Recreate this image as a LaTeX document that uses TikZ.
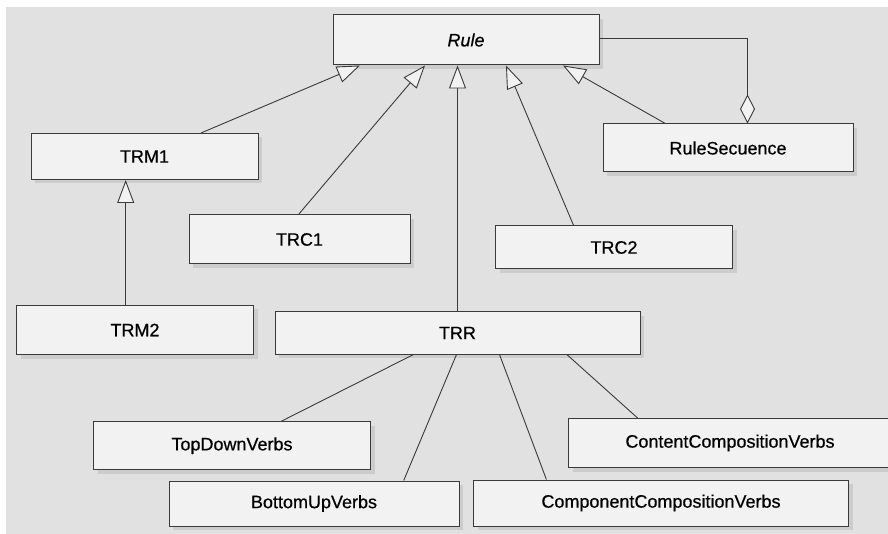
\documentclass[tikz,border=0pt]{standalone}
\usepackage{fontspec}
\setmainfont{Liberation Sans}
\newfontfamily\umlfont[FakeBold=0.5]{Liberation Sans}
\usetikzlibrary{arrows.meta, shadows}
\definecolor{bgcol}{HTML}{E1E1E1}
\definecolor{boxcol}{HTML}{F2F2F2}
\definecolor{linecol}{HTML}{3A3A3A}
\tikzset{
  umlclass/.style={draw=linecol, fill=boxcol, line width=1pt, inner sep=0pt,
    font=\umlfont\fontsize{18}{21}\selectfont,
    drop shadow={shadow xshift=4pt, shadow yshift=-4pt, fill=black!20, opacity=1}},
  inherit/.style={-{Triangle[length=23pt, width=17pt, fill=boxcol]}, draw=linecol, line width=0.9pt},
  assoc/.style={draw=linecol, line width=0.9pt},
  aggr/.style={-{Diamond[length=29pt, width=15pt, fill=boxcol]}, draw=linecol, line width=0.9pt}
}

\begin{document}
\begin{tikzpicture}[x=1pt, y=-1pt]
        \useasboundingbox (0,0) rectangle (888,534);
        \fill[bgcol] (6,7) rectangle (888,534);
        \node[umlclass, minimum width=266pt, minimum height=50pt] (rule) at (466,40) {\textit{Rule}};
        \node[umlclass, minimum width=227pt, minimum height=46pt] (trm1) at (144.5,156.5) {TRM1};
        \node[umlclass, minimum width=221pt, minimum height=49pt] (trc1) at (299.5,239.5) {TRC1};
        \node[umlclass, minimum width=237pt, minimum height=43pt] (trc2) at (614,247.5) {TRC2};
        \node[umlclass, minimum width=250pt, minimum height=48pt] (ruleseq) at (728,148) {RuleSecuence};
        \node[umlclass, minimum width=237pt, minimum height=49pt] (trm2) at (135,330) {TRM2};
        \node[umlclass, minimum width=365pt, minimum height=42pt] (trr) at (457.5,333) {TRR};
        \node[umlclass, minimum width=277pt, minimum height=48pt] (topdown) at (232,445.7) {TopDownVerbs};
        \node[umlclass, minimum width=323pt, minimum height=49pt] (content) at (730,443) {ContentCompositionVerbs};
        \node[umlclass, minimum width=290pt, minimum height=45pt] (bottomup) at (314,503.5) {BottomUpVerbs};
        \node[umlclass, minimum width=375pt, minimum height=46pt] (component) at (661,503) {ComponentCompositionVerbs};
        \draw[inherit] ([xshift=56.5pt]trm1.north) -- ([xshift=-106pt]rule.south);
        \draw[inherit] ([xshift=-1pt]trc1.north) -- ([xshift=-41pt]rule.south);
        \draw[inherit] (trr.north) -- (trr.north |- rule.south);
        \draw[inherit] ([xshift=-40.4pt]trc2.north) -- ([xshift=40pt]rule.south);
        \draw[inherit] ([xshift=-62.7pt]ruleseq.north) -- ([xshift=97pt]rule.south);
        \draw[aggr] ([yshift=1.5pt]rule.east) -| ([xshift=19.5pt]ruleseq.north);
        \draw[inherit] ([xshift=-9.3pt]trm2.north) -- ([xshift=-18.8pt]trm1.south);
        \draw[assoc] ([xshift=-44pt]trr.south) -- ([xshift=49.4pt]topdown.north);
        \draw[assoc] ([xshift=-1pt]trr.south) -- ([xshift=89.7pt]bottomup.north);
        \draw[assoc] ([xshift=42pt]trr.south) -- ([xshift=-114.6pt]component.north);
        \draw[assoc] ([xshift=109.3pt]trr.south) -- ([xshift=-92.4pt]content.north);
      \end{tikzpicture}
\end{document}
